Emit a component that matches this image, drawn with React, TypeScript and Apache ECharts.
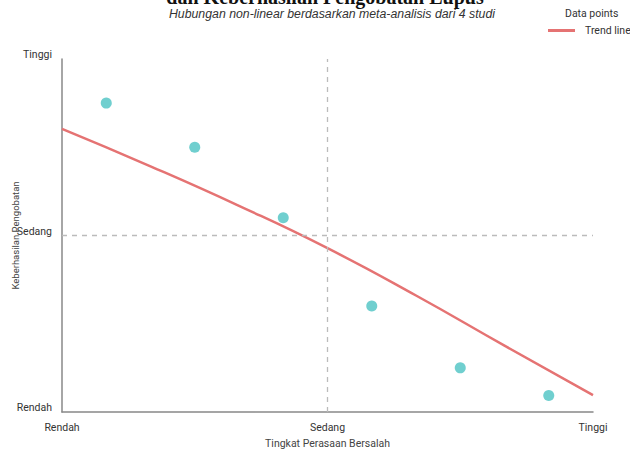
import React, { useEffect, useRef } from "react";
import * as echarts from "echarts";

const titleText = "dan Keberhasilan Pengobatan Lupus";
const subtitleText = "Hubungan non-linear berdasarkan meta-analisis dari 4 studi";
const xAxisName = "Tingkat Perasaan Bersalah";
const yAxisName = "Keberhasilan Pengobatan";
const levelLabels = ["Rendah", "Sedang", "Tinggi"];

const pointX = [0.5, 1.5, 2.5, 3.5, 4.5, 5.5];
const pointY = [8.75, 7.5, 5.5, 3.0, 1.25, 0.47];

const trendX = [0, 1, 2, 3, 4, 5, 6];
const trendY = [8.02, 6.96, 5.84, 4.64, 3.3, 1.88, 0.48];

const X_MAX = 6;
const Y_MAX = 10;

export default function App() {
  const ref = useRef<HTMLDivElement>(null);
  useEffect(() => {
    if (!ref.current) return;
    const chart = echarts.init(ref.current, null, { renderer: "svg" });
    const xLabel = (v: number) => {
      if (v === 0) return levelLabels[0];
      if (v === X_MAX / 2) return levelLabels[1];
      if (v === X_MAX) return levelLabels[2];
      return "";
    };
    const yLabel = (v: number) => {
      if (v === 0) return levelLabels[0];
      if (v === Y_MAX / 2) return levelLabels[1];
      if (v === Y_MAX) return levelLabels[2];
      return "";
    };
    chart.setOption({
      animation: false,
      backgroundColor: "#ffffff",
      title: [
        {
          text: titleText,
          left: 320,
          top: -18,
          textAlign: "center",
          textStyle: {
            fontFamily: "Liberation Serif",
            fontWeight: "bold",
            fontSize: 20,
            color: "#111",
          },
        },
        {
          text: subtitleText,
          left: 327,
          top: 3,
          textAlign: "center",
          textStyle: {
            fontFamily: "Liberation Sans",
            fontStyle: "italic",
            fontWeight: "normal",
            fontSize: 12.3,
            color: "#333",
          },
        },
      ],
      legend: [
        {
          data: [{ name: "Data points", itemStyle: { opacity: 0 } }],
          left: 555,
          top: 3,
          itemWidth: 0,
          itemHeight: 0,
          textStyle: { fontFamily: "Roboto", fontSize: 10.5, color: "#333" },
        },
        {
          data: [{ name: "Trend line", icon: "rect" }],
          left: 543,
          top: 20,
          itemWidth: 27,
          itemHeight: 3,
          textStyle: {
            fontFamily: "Roboto",
            fontSize: 10.5,
            color: "#333",
            padding: [0, 0, 0, 5],
          },
        },
      ],
      grid: { left: 62, right: 37, top: 59, bottom: 40, outerBoundsMode: "none", containLabel: false },
      xAxis: {
        type: "value",
        min: 0,
        max: X_MAX,
        interval: X_MAX / 2,
        name: xAxisName,
        nameLocation: "middle",
        nameGap: 26,
        nameMoveOverlap: false,
        nameTextStyle: { fontFamily: "Roboto", fontSize: 10.5, color: "#444" },
        axisLine: { show: true, lineStyle: { color: "#888", width: 1.5 } },
        axisTick: { show: false },
        splitLine: { show: false },
        axisLabel: {
          formatter: xLabel,
          margin: 10,
          fontFamily: "Roboto",
          fontSize: 10.5,
          color: "#333",
          showMinLabel: true,
          showMaxLabel: true,
        },
      },
      yAxis: {
        type: "value",
        min: 0,
        max: Y_MAX,
        interval: Y_MAX / 2,
        name: yAxisName,
        nameLocation: "middle",
        nameGap: 42,
        nameMoveOverlap: false,
        nameTextStyle: { fontFamily: "Roboto", fontSize: 9.5, color: "#444" },
        axisLine: { show: true, lineStyle: { color: "#888", width: 1.5 } },
        axisTick: { show: false },
        splitLine: { show: false },
        axisLabel: {
          formatter: yLabel,
          margin: 10,
          fontFamily: "Roboto",
          fontSize: 10.5,
          color: "#333",
          verticalAlign: "bottom",
          lineHeight: 9,
          showMinLabel: true,
          showMaxLabel: true,
        },
      },
      series: [
        {
          name: "Data points",
          type: "scatter",
          data: pointX.map((x, i) => [x, pointY[i]]),
          symbolSize: 11,
          itemStyle: { color: "#4cc3c3" },
          z: 3,
          markLine: {
            silent: true,
            symbol: "none",
            label: { show: false },
            lineStyle: { color: "#bbb", type: [5, 5], width: 1.3 },
            data: [{ xAxis: X_MAX / 2 }, { yAxis: Y_MAX / 2 }],
          },
        },
        {
          name: "Trend line",
          type: "line",
          data: trendX.map((x, i) => [x, trendY[i]]),
          smooth: true,
          symbol: "none",
          showSymbol: false,
          lineStyle: { color: "#e57373", width: 2.5 },
          itemStyle: { color: "#e57373" },
          z: 2,
        },
      ],
    });
    return () => chart.dispose();
  }, []);
  return <div ref={ref} style={{ width: 630, height: 452, position: "absolute", left: 0, top: 0 }} />;
}
